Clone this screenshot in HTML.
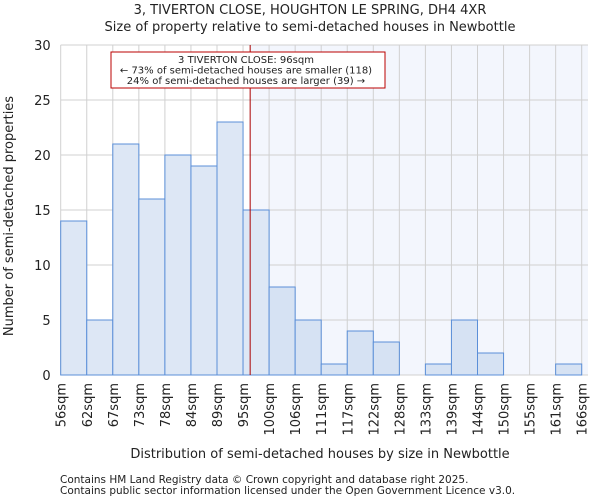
<!DOCTYPE html>
<html><head><meta charset="utf-8"><style>
body{margin:0;background:#fff;font-family:"DejaVu Sans","Liberation Sans",sans-serif;}
svg text{font-family:"DejaVu Sans","Liberation Sans",sans-serif;fill:#222;}
</style></head><body>
<svg id="chart" width="600" height="500" xmlns="http://www.w3.org/2000/svg">
<text x="310" y="14" text-anchor="middle" font-size="13">3, TIVERTON CLOSE, HOUGHTON LE SPRING, DH4 4XR</text>
<text x="310" y="31" text-anchor="middle" font-size="13">Size of property relative to semi-detached houses in Newbottle</text>
<g id="plot"></g>
<text x="320" y="458" text-anchor="middle" font-size="13">Distribution of semi-detached houses by size in Newbottle</text>
<text transform="translate(13,216) rotate(-90)" text-anchor="middle" font-size="13">Number of semi-detached properties</text>
<text x="60" y="483" font-size="10.5" fill="#444">Contains HM Land Registry data © Crown copyright and database right 2025.</text>
<text x="60" y="494" font-size="10.5" fill="#444">Contains public sector information licensed under the Open Government Licence v3.0.</text>
</svg>
<script>
const binLabels=["56sqm","62sqm","67sqm","73sqm","78sqm","84sqm","89sqm","95sqm","100sqm","106sqm","111sqm","117sqm","122sqm","128sqm","133sqm","139sqm","144sqm","150sqm","155sqm","161sqm","166sqm"];
const counts=[14,5,21,16,20,19,23,15,8,5,1,4,3,0,1,5,2,0,0,1];
const yTicks=[0,5,10,15,20,25,30];
const propertySize=96;
const binStart=56, binStep=5.5;
const annotationLines=["3 TIVERTON CLOSE: 96sqm","← 73% of semi-detached houses are smaller (118)","24% of semi-detached houses are larger (39) →"];

const NS="http://www.w3.org/2000/svg";
const g=document.getElementById('plot');
const L=60.7,R=588,T=45,B=375,bw=26.05;
const x=i=>L+i*bw;
const xv=v=>L+(v-binStart)/binStep*bw;
const y=v=>B-(v/30)*(B-T);
function mk(tag,attrs){const e=document.createElementNS(NS,tag);for(const k in attrs)e.setAttribute(k,attrs[k]);g.appendChild(e);return e;}
const px=xv(propertySize);
let e=mk('rect',{x:px,y:T,width:R-px,height:B-T,fill:'#f3f6fd'});


yTicks.forEach(t=>{
 let l=mk('line',{x1:L,x2:R,y1:y(t),y2:y(t),stroke:'#d0d0d0','stroke-width':1});
 
 
 let tx=mk('text',{x:L-10,y:y(t)+5,'text-anchor':'end','font-size':13});
 tx.textContent=t;
 
 
});
binLabels.forEach((lab,i)=>{
 let l=mk('line',{x1:x(i),x2:x(i),y1:T,y2:B,stroke:'#d0d0d0','stroke-width':1});
 
 
 let tx=mk('text',{transform:`translate(${x(i)+5},${B+8}) rotate(-90)`,'text-anchor':'end','font-size':13});
 tx.textContent=lab;
 
 
});
counts.forEach((c,i)=>{
 let r=mk('rect',{x:x(i),y:y(c),width:bw,height:B-y(c),fill:x(i)>=px?'#d6e2f3':'#dde7f5',stroke:'#5b8fd8','stroke-width':1});
 
 
});
let pl=mk('line',{x1:px,x2:px,y1:T,y2:B,stroke:'#a00','stroke-width':1});


let box=mk('rect',{x:111,y:52,width:274,height:36,fill:'#fff',stroke:'#b00','stroke-width':1});


annotationLines.forEach((s,i)=>{
 let t=mk('text',{x:246,y:63+i*10.5,'text-anchor':'middle','font-size':10});
 t.textContent=s;
 
 
});
</script>
</body></html>
